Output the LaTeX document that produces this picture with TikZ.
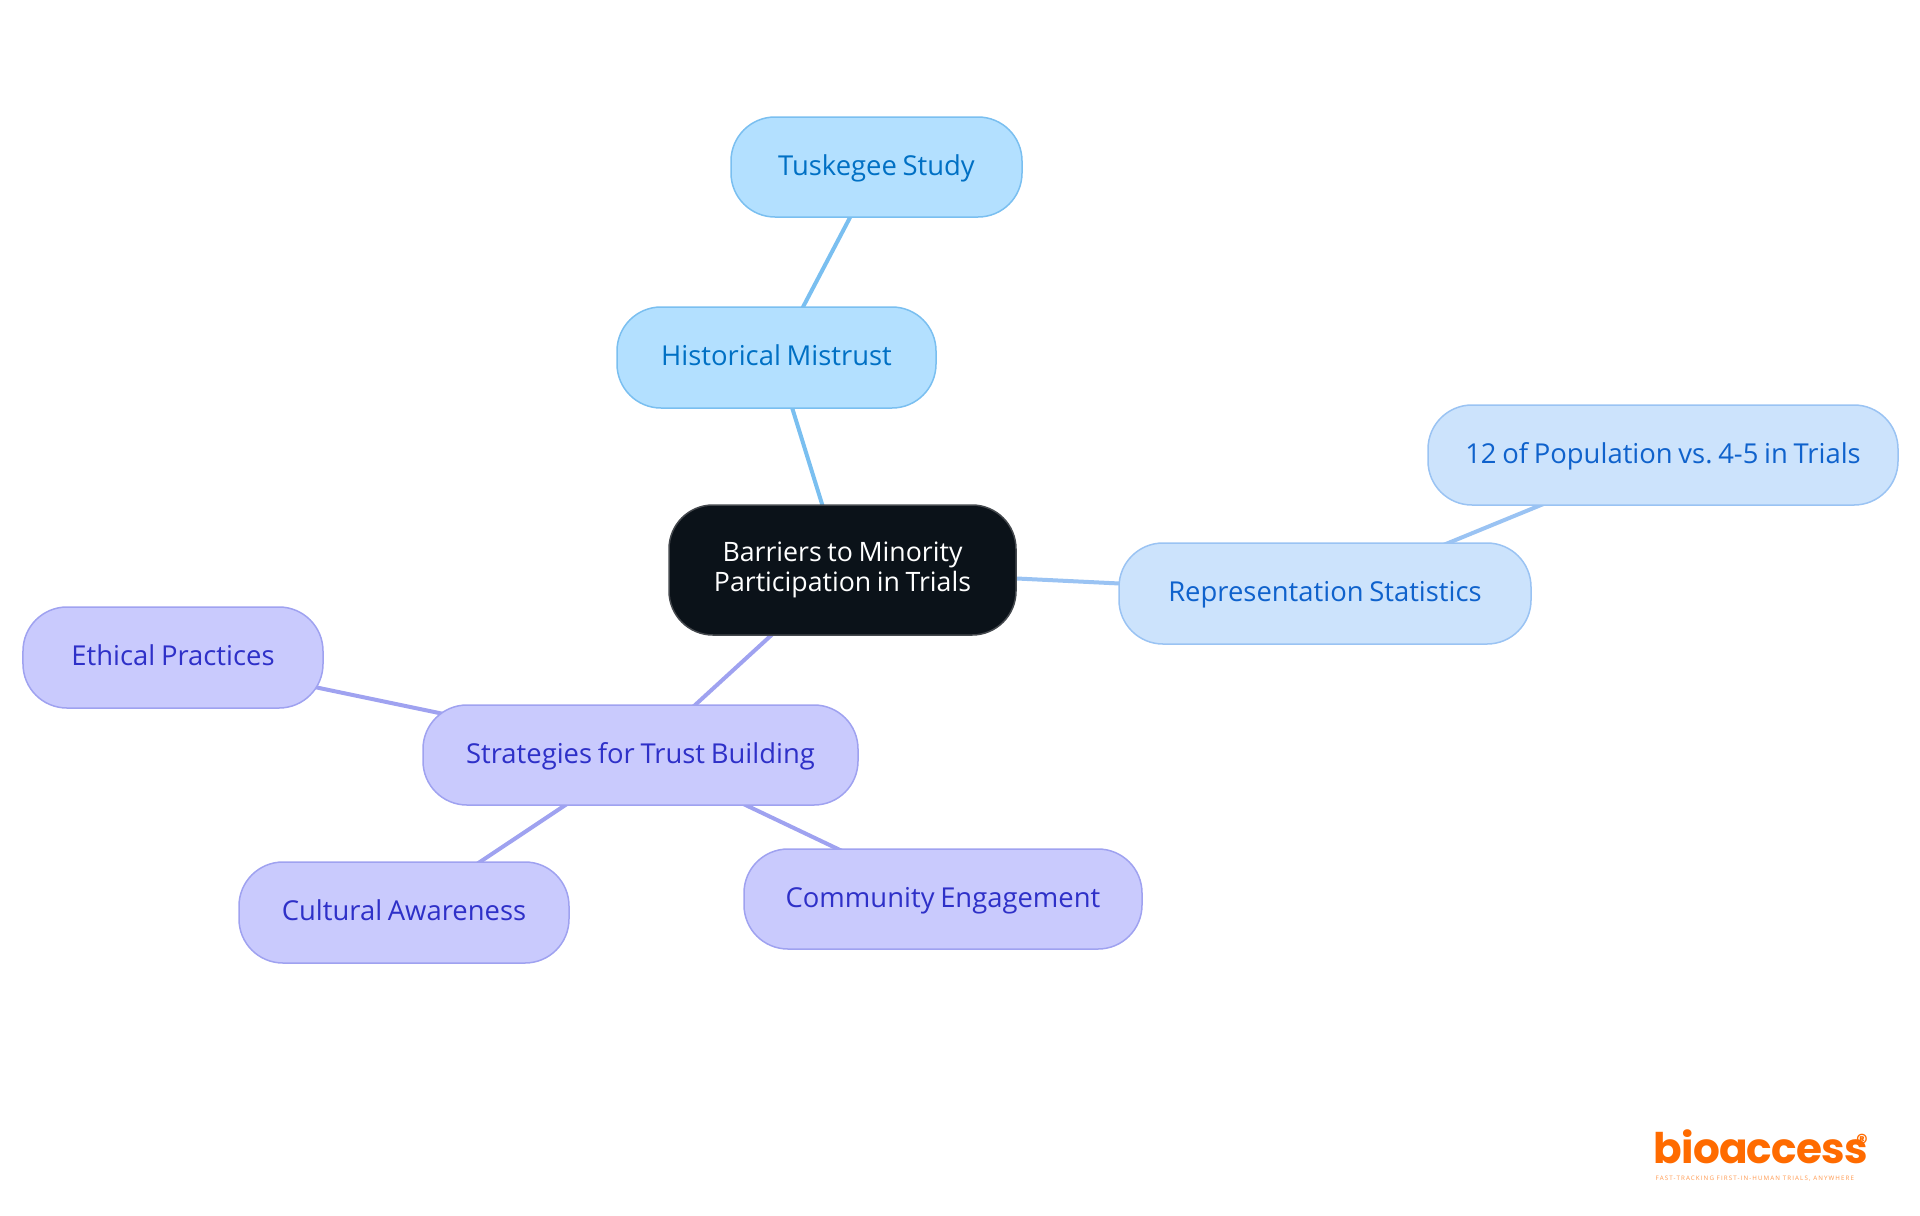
\documentclass[tikz,border=0pt]{standalone}
\usepackage{fontspec}
\setmainfont[WordSpace=0.8]{Open Sans}
\newfontfamily\logofont[LetterSpace=-2]{Poppins}
\newfontfamily\tagfont[LetterSpace=18]{Open Sans}
\usetikzlibrary{backgrounds}

\definecolor{rootfill}{HTML}{0B1219}
\definecolor{rootline}{HTML}{44484D}
\definecolor{skyfill}{HTML}{B3E0FF}
\definecolor{skyline}{HTML}{7ABFF0}
\definecolor{skytext}{HTML}{0070C4}
\definecolor{palefill}{HTML}{CCE3FC}
\definecolor{paleline}{HTML}{9AC3F3}
\definecolor{paletext}{HTML}{0F62CC}
\definecolor{violetfill}{HTML}{C9CAFD}
\definecolor{violetline}{HTML}{9FA2F0}
\definecolor{violettext}{HTML}{2E30C8}
\definecolor{logoorange}{HTML}{FF6B00}

\tikzset{
    mapbox/.style={rounded corners=0.44cm, line width=0.015cm, inner sep=0pt, align=center,
        text height=0.2cm, text depth=0.04cm,
        font=\frenchspacing\fontsize{7.8pt}{8.54pt}\selectfont},
    rootbox/.style={mapbox, fill=rootfill, draw=rootline, text=white, text height=, text depth=,
        font=\frenchspacing\fontsize{7.6pt}{8.54pt}\selectfont},
    skybox/.style={mapbox, fill=skyfill, draw=skyline, text=skytext},
    palebox/.style={mapbox, fill=palefill, draw=paleline, text=paletext},
    violetbox/.style={mapbox, fill=violetfill, draw=violetline, text=violettext},
    branch/.style={line width=0.04cm}
}

\begin{document}
\begin{tikzpicture}
    \useasboundingbox (0,0) rectangle (19.2,-12.15);

    \node[rootbox, minimum width=3.47cm, minimum height=1.30cm] (root) at (8.425,-5.70)
        {Barriers to Minority\\Participation in Trials};

    \node[skybox, minimum width=3.19cm, minimum height=1.01cm] (historical) at (7.765,-3.575) {Historical Mistrust};
    \node[skybox, minimum width=2.91cm, minimum height=1.00cm] (tuskegee) at (8.765,-1.67) {Tuskegee Study};

    \node[palebox, minimum width=4.12cm, minimum height=1.01cm] (statistics) at (13.25,-5.935) {Representation Statistics};
    \node[palebox, minimum width=4.70cm, minimum height=1.00cm] (population) at (16.63,-4.55) {12 of Population vs. 4-5 in Trials};

    \node[violetbox, minimum width=4.35cm, minimum height=1.00cm] (strategies) at (6.405,-7.55) {Strategies for Trust Building};
    \node[violetbox, minimum width=3.00cm, minimum height=1.01cm] (ethical) at (1.73,-6.575) {Ethical Practices};
    \node[violetbox, minimum width=3.30cm, minimum height=1.01cm] (cultural) at (4.04,-9.125) {Cultural Awareness};
    \node[violetbox, minimum width=3.98cm, minimum height=1.00cm] (community) at (9.43,-8.99) {Community Engagement};

    % connectors run centre to centre, under the boxes
    \begin{scope}[on background layer]
        \draw[branch, skyline] (root.center) -- (historical.center);
        \draw[branch, skyline] (historical.center) -- (tuskegee.center);
        \draw[branch, paleline] (root.center) -- (statistics.center);
        \draw[branch, paleline] (statistics.center) -- (population.center);
        \draw[branch, violetline] (root.center) -- (strategies.center);
        \draw[branch, violetline] (strategies.center) -- (ethical.center);
        \draw[branch, violetline] (strategies.center) -- (cultural.center);
        \draw[branch, violetline] (strategies.center) -- (community.center);
    \end{scope}

    % logo
    \node[anchor=base west, inner sep=0pt, text=logoorange, font=\logofont\bfseries\fontsize{12pt}{12pt}\selectfont] (logo) at (16.53,-11.63) {bioaccess};
    \node[anchor=center, inner sep=0pt, text=logoorange, font=\logofont\bfseries\fontsize{6.5pt}{7pt}\selectfont] (registered) at (18.62,-11.42) {®};
    \node[anchor=base west, inner sep=0pt, text=logoorange!70, font=\tagfont\fontsize{1.76pt}{2pt}\selectfont] (tagline) at (16.55,-11.80) {FAST-TRACKING FIRST-IN-HUMAN TRIALS, ANYWHERE};
\end{tikzpicture}
\end{document}
